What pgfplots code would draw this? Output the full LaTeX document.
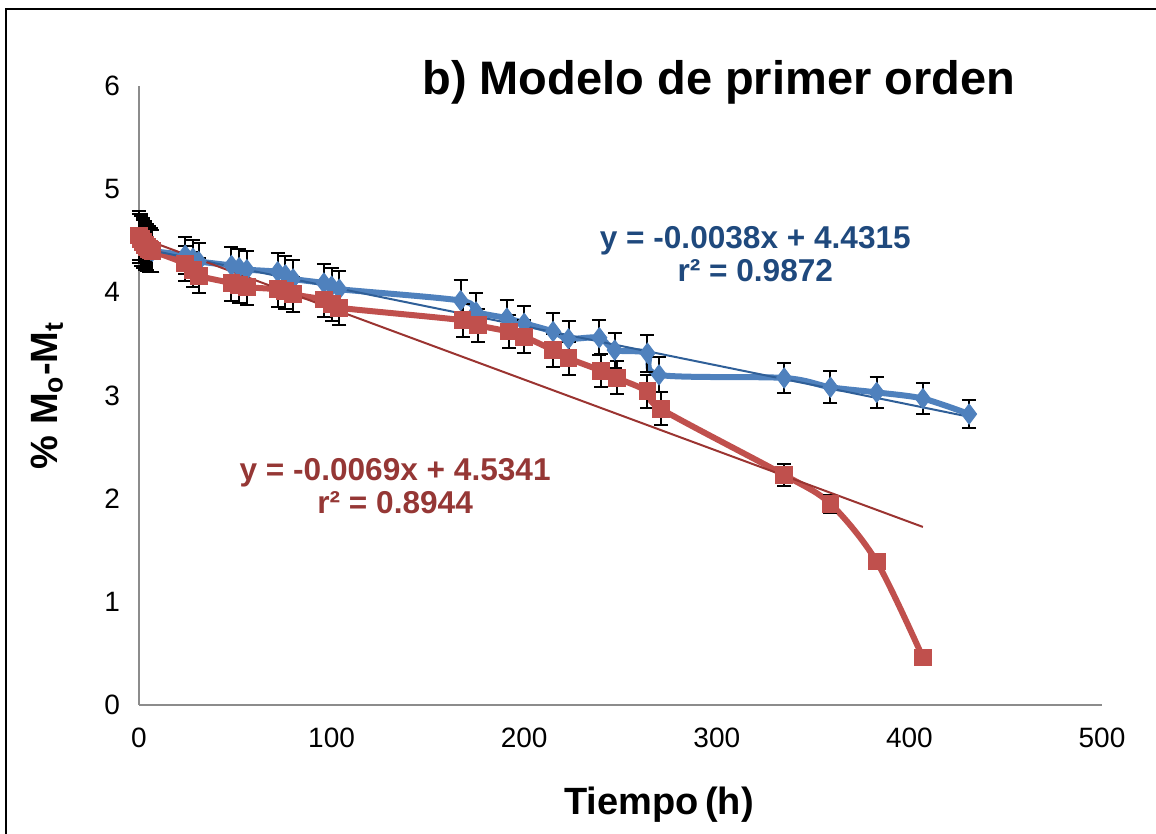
\documentclass[border=0pt]{standalone}
\usepackage{fontspec}
\setmainfont{Liberation Sans}
\usepackage{pgfplots}
\usepackage{pgfplotstable}
\pgfplotsset{compat=1.18}
\definecolor{bser}{HTML}{4F81BD}
\definecolor{rser}{HTML}{C0504D}
\definecolor{btr}{HTML}{2F5F98}
\definecolor{rtr}{HTML}{9B3431}
\definecolor{beq}{HTML}{1F497D}
\definecolor{req}{HTML}{953735}
\definecolor{axgray}{HTML}{8C8C8C}

\pgfplotstableread{
x y e
0 4.52 0.24
1 4.50 0.24
2 4.47 0.23
3 4.45 0.23
4 4.43 0.22
5 4.42 0.22
6 4.41 0.21
7 4.40 0.20
24 4.36 0.18
28 4.33 0.18
31 4.30 0.18
48 4.26 0.18
52 4.24 0.18
56 4.22 0.18
72 4.20 0.18
76 4.17 0.18
80 4.13 0.18
96 4.09 0.18
100 4.06 0.18
104 4.03 0.18
167 3.92 0.20
175 3.81 0.18
191 3.75 0.18
200 3.70 0.17
215 3.62 0.18
223 3.55 0.17
239 3.56 0.17
247 3.44 0.17
264 3.41 0.18
270 3.20 0.17
335 3.17 0.145
359 3.08 0.155
383 3.03 0.15
407 2.97 0.15
431 2.82 0.135
}\blue

\pgfplotstableread{
x y e
0 4.55 0.24
1 4.52 0.24
2 4.49 0.23
3 4.46 0.23
4 4.44 0.22
5 4.42 0.22
6 4.41 0.21
7 4.40 0.20
24 4.28 0.17
28 4.22 0.17
31 4.16 0.17
48 4.09 0.17
52 4.07 0.17
56 4.05 0.17
72 4.03 0.17
76 4.01 0.17
80 3.98 0.17
96 3.93 0.17
100 3.89 0.17
104 3.85 0.17
168 3.73 0.16
176 3.68 0.16
192 3.62 0.16
200 3.57 0.16
215 3.44 0.16
223 3.36 0.16
240 3.24 0.16
248 3.17 0.16
264 3.04 0.16
271 2.87 0.16
335 2.23 0.11
359 1.95 0.09
383 1.39 0.07
407 0.46 0.0
}\red

\begin{document}
\begin{tikzpicture}
\useasboundingbox (-69.5pt,-64.5pt) rectangle (508.5pt,352.5pt);
\draw[line width=1pt] (-66.5pt,-80pt) -- (-66.5pt,348pt) -- (530pt,348pt);
\begin{axis}[
  at={(0,0)}, anchor=south west,
  scale only axis, width=481.5pt, height=309.5pt,
  xmin=0, xmax=500, ymin=0, ymax=6,
  axis x line*=bottom, axis y line*=left,
  axis line style={axgray, line width=1pt, -},
  xtick={0,100,...,500}, ytick={0,1,...,6},
  major tick length=0pt,
  tick style={draw=none},
  /pgf/number format/assume math mode=true,
  xticklabel style={font=\fontsize{14}{16}\selectfont, yshift=-8pt},
  yticklabel style={font=\fontsize{14}{16}\selectfont, xshift=-6pt},
  clip=false,
  xlabel={Tiempo\,(h)},
  xlabel style={font=\fontsize{19}{21}\selectfont\bfseries, at={(axis cs:270,0)}, anchor=center, yshift=-50pt},
  ylabel={\% M\textsubscript{o}-M\textsubscript{t}},
  ylabel style={font=\fontsize{19}{21}\selectfont\bfseries, at={(axis description cs:-0.0955,0.5)}, anchor=center},
]
\addplot[bser, line width=3pt, smooth, mark=diamond*, mark size=5pt,
  mark options={solid, fill=bser, draw=bser, line width=0.5pt},
  error bars/.cd, y dir=both, y explicit,
  error bar style={black, line width=1pt},
  error mark options={rotate=90, mark size=3.5pt, black, line width=1pt}]
  table[x=x, y=y, y error=e] {\blue};
\addplot[rser, line width=3pt, smooth, mark=square*, mark size=4.2pt,
  mark options={solid, fill=rser, draw=rser, line width=0.5pt},
  error bars/.cd, y dir=both, y explicit,
  error bar style={black, line width=1pt},
  error mark options={rotate=90, mark size=3.5pt, black, line width=1pt}]
  table[x=x, y=y, y error=e] {\red};
\addplot[btr, line width=1pt] coordinates {(0,4.4315) (432,2.790)};
\addplot[rtr, line width=1pt] coordinates {(0,4.5341) (407,1.726)};
\node[font=\fontsize{23.5}{28}\selectfont\bfseries, anchor=center] at (axis cs:301,6.04) {b) Modelo de primer orden};
\node[font=\fontsize{15.8}{16.5}\selectfont\bfseries, text=beq, align=center, anchor=center] at (axis cs:320,4.375) {y = -0.0038x + 4.4315\\r² = 0.9872};
\node[font=\fontsize{15.8}{16.5}\selectfont\bfseries, text=req, align=center, anchor=center] at (axis cs:133,2.117) {y = -0.0069x + 4.5341\\r² = 0.8944};
\end{axis}
\end{tikzpicture}
\end{document}
